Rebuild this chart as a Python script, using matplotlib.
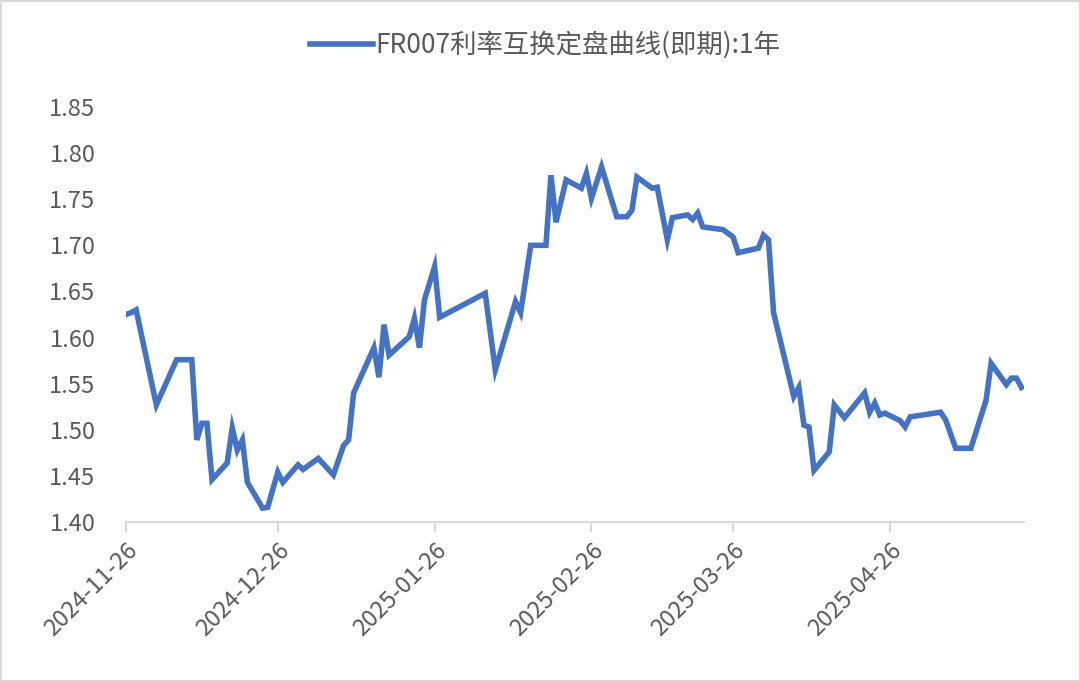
import matplotlib
matplotlib.use("Agg")
import matplotlib.pyplot as plt
import matplotlib.dates as mdates
import pandas as pd

plt.rcParams['font.family'] = ['Noto Sans CJK SC', 'DejaVu Sans']

# FR007 1Y swap fixing
dates = [
    "2024-11-26", "2024-11-27", "2024-11-28", "2024-12-02", "2024-12-06",
    "2024-12-09", "2024-12-10", "2024-12-11", "2024-12-12", "2024-12-13",
    "2024-12-16", "2024-12-17", "2024-12-18", "2024-12-19", "2024-12-20",
    "2024-12-23", "2024-12-24", "2024-12-26", "2024-12-27", "2024-12-30",
    "2024-12-31", "2025-01-03", "2025-01-06", "2025-01-08", "2025-01-09",
    "2025-01-10", "2025-01-14", "2025-01-15", "2025-01-16", "2025-01-17",
    "2025-01-21", "2025-01-22", "2025-01-23", "2025-01-24", "2025-01-26",
    "2025-01-27", "2025-02-05", "2025-02-07", "2025-02-11", "2025-02-12",
    "2025-02-14", "2025-02-17", "2025-02-18", "2025-02-19", "2025-02-21",
    "2025-02-24", "2025-02-25", "2025-02-26", "2025-02-28", "2025-03-03",
    "2025-03-05", "2025-03-06", "2025-03-07", "2025-03-10", "2025-03-11",
    "2025-03-13", "2025-03-14", "2025-03-17", "2025-03-18", "2025-03-19",
    "2025-03-20", "2025-03-24", "2025-03-26", "2025-03-27", "2025-03-31",
    "2025-04-01", "2025-04-02", "2025-04-03", "2025-04-07", "2025-04-08",
    "2025-04-09", "2025-04-10", "2025-04-11", "2025-04-14", "2025-04-15",
    "2025-04-17", "2025-04-21", "2025-04-22", "2025-04-23", "2025-04-24",
    "2025-04-25", "2025-04-28", "2025-04-29", "2025-04-30", "2025-05-06",
    "2025-05-07", "2025-05-09", "2025-05-12", "2025-05-15", "2025-05-16",
    "2025-05-19", "2025-05-20", "2025-05-21", "2025-05-22",
]
rates = [
    1.625, 1.627, 1.630, 1.527, 1.576,
    1.576, 1.489, 1.507, 1.507, 1.446,
    1.464, 1.502, 1.478, 1.489, 1.443,
    1.415, 1.416, 1.454, 1.443, 1.462,
    1.457, 1.469, 1.451, 1.483, 1.489,
    1.540, 1.589, 1.557, 1.614, 1.581,
    1.601, 1.621, 1.589, 1.641, 1.677,
    1.622, 1.648, 1.565, 1.639, 1.627,
    1.700, 1.700, 1.776, 1.725, 1.771,
    1.762, 1.778, 1.751, 1.785, 1.731,
    1.731, 1.738, 1.774, 1.762, 1.763,
    1.706, 1.730, 1.733, 1.728, 1.735,
    1.720, 1.717, 1.709, 1.692, 1.697,
    1.711, 1.706, 1.627, 1.536, 1.546,
    1.505, 1.503, 1.456, 1.476, 1.527,
    1.513, 1.540, 1.519, 1.529, 1.516,
    1.518, 1.510, 1.503, 1.514, 1.519,
    1.511, 1.480, 1.480, 1.532, 1.572,
    1.549, 1.556, 1.556, 1.546,
]
series_name = "FR007利率互换定盘曲线(即期):1年"

x = pd.to_datetime(dates)

fig = plt.figure(figsize=(10.8, 6.81), dpi=100)
fig.patch.set_edgecolor("#d9d9d9")
fig.patch.set_linewidth(2)
ax = fig.add_axes([126 / 1080, 1 - 522 / 681, (1024 - 126) / 1080, (522 - 107) / 681])

ax.plot(x, rates, color="#4472C4", lw=4, solid_joinstyle="miter", label=series_name)

ax.set_ylim(1.40, 1.85)
ax.set_yticks([1.40, 1.45, 1.50, 1.55, 1.60, 1.65, 1.70, 1.75, 1.80, 1.85])
ax.yaxis.set_major_formatter(matplotlib.ticker.FormatStrFormatter("%.2f"))
ax.set_xlim(x[0], x[-1] + pd.Timedelta(days=0.5))
ax.xaxis.set_major_locator(mdates.MonthLocator(bymonthday=26))
ax.xaxis.set_major_formatter(mdates.DateFormatter("%Y-%m-%d"))

for s in ["top", "right", "left"]:
    ax.spines[s].set_visible(False)
ax.spines["bottom"].set_color("#d9d9d9")
ax.spines["bottom"].set_linewidth(1.5)
ax.tick_params(axis="y", length=0, labelsize=17, labelcolor="#595959", pad=22)
ax.tick_params(axis="x", length=7, width=1.5, color="#d9d9d9", labelsize=17,
               labelcolor="#595959", pad=5)
for lab in ax.get_xticklabels():
    lab.set_rotation(45)
    lab.set_ha("right")
    lab.set_rotation_mode("anchor")

fig.legend(loc="center", bbox_to_anchor=(545 / 1080, 1 - 45 / 681), frameon=False,
           fontsize=19, handlelength=2.4, handletextpad=0.1, labelcolor="#595959")

fig.savefig("out.png", dpi=100)
